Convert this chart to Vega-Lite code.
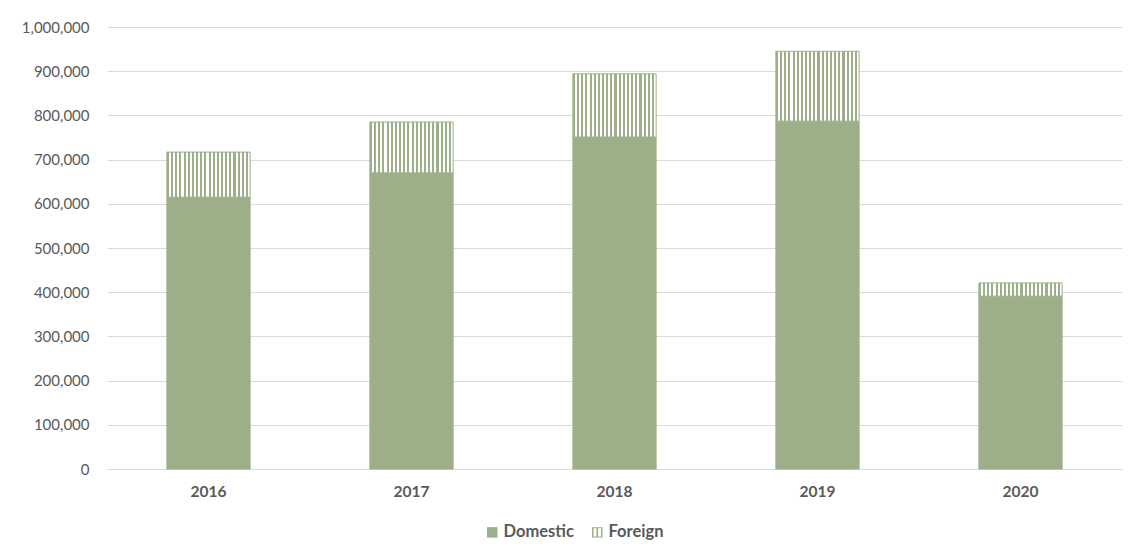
{
  "$schema": "https://vega.github.io/schema/vega-lite/v6.json",
  "autosize": "none",
  "width": 1015,
  "height": 442,
  "padding": {"left": 107, "top": 27, "right": 12, "bottom": 84},
  "background": "white",
  "data": {
    "values": [
      {"year": "2016", "type": "Domestic", "value": 615000},
      {"year": "2016", "type": "Foreign", "value": 102000},
      {"year": "2017", "type": "Domestic", "value": 670000},
      {"year": "2017", "type": "Foreign", "value": 115000},
      {"year": "2018", "type": "Domestic", "value": 751000},
      {"year": "2018", "type": "Foreign", "value": 143000},
      {"year": "2019", "type": "Domestic", "value": 787000},
      {"year": "2019", "type": "Foreign", "value": 158000},
      {"year": "2020", "type": "Domestic", "value": 391000},
      {"year": "2020", "type": "Foreign", "value": 30000}
    ]
  },
  "encoding": {
    "x": {
      "field": "year",
      "type": "nominal",
      "scale": {"paddingInner": 0.59, "paddingOuter": 0.295},
      "axis": {
        "title": null,
        "labelAngle": 0,
        "ticks": false,
        "domainColor": "#D9D9D9",
        "labelFont": "Lato",
        "labelFontSize": 15.5,
        "labelFontWeight": "bold",
        "labelColor": "#595959",
        "labelPadding": 15
      }
    }
  },
  "layer": [
    {
      "mark": {"type": "bar", "stroke": "#9CAF88", "strokeWidth": 1},
      "encoding": {
        "y": {
          "field": "value",
          "type": "quantitative",
          "stack": "zero",
          "scale": {"domain": [0, 1000000], "nice": false},
          "axis": {
            "title": null,
            "values": [0, 100000, 200000, 300000, 400000, 500000, 600000, 700000, 800000, 900000, 1000000],
            "format": ",d",
            "domain": false,
            "ticks": false,
            "gridColor": "#D9D9D9",
            "labelFont": "Lato",
            "labelFontSize": 15,
            "labelColor": "#595959",
            "labelPadding": 18
          }
        },
        "detail": {"field": "type", "type": "nominal"},
        "order": {"field": "type", "sort": "ascending"},
        "fill": {
          "condition": {
            "test": "datum.type === 'Foreign'",
            "value": {
              "gradient": "linear",
              "x1": 0, "y1": 0, "x2": 1, "y2": 0,
              "stops": [
                {"offset": 0, "color": "#9CAF88"}, {"offset": 0.025, "color": "#9CAF88"}, {"offset": 0.025, "color": "#FFFFFF"}, {"offset": 0.05, "color": "#FFFFFF"},
                {"offset": 0.05, "color": "#9CAF88"}, {"offset": 0.075, "color": "#9CAF88"}, {"offset": 0.075, "color": "#FFFFFF"}, {"offset": 0.1, "color": "#FFFFFF"},
                {"offset": 0.1, "color": "#9CAF88"}, {"offset": 0.125, "color": "#9CAF88"}, {"offset": 0.125, "color": "#FFFFFF"}, {"offset": 0.15, "color": "#FFFFFF"},
                {"offset": 0.15, "color": "#9CAF88"}, {"offset": 0.175, "color": "#9CAF88"}, {"offset": 0.175, "color": "#FFFFFF"}, {"offset": 0.2, "color": "#FFFFFF"},
                {"offset": 0.2, "color": "#9CAF88"}, {"offset": 0.225, "color": "#9CAF88"}, {"offset": 0.225, "color": "#FFFFFF"}, {"offset": 0.25, "color": "#FFFFFF"},
                {"offset": 0.25, "color": "#9CAF88"}, {"offset": 0.275, "color": "#9CAF88"}, {"offset": 0.275, "color": "#FFFFFF"}, {"offset": 0.3, "color": "#FFFFFF"},
                {"offset": 0.3, "color": "#9CAF88"}, {"offset": 0.325, "color": "#9CAF88"}, {"offset": 0.325, "color": "#FFFFFF"}, {"offset": 0.35, "color": "#FFFFFF"},
                {"offset": 0.35, "color": "#9CAF88"}, {"offset": 0.375, "color": "#9CAF88"}, {"offset": 0.375, "color": "#FFFFFF"}, {"offset": 0.4, "color": "#FFFFFF"},
                {"offset": 0.4, "color": "#9CAF88"}, {"offset": 0.425, "color": "#9CAF88"}, {"offset": 0.425, "color": "#FFFFFF"}, {"offset": 0.45, "color": "#FFFFFF"},
                {"offset": 0.45, "color": "#9CAF88"}, {"offset": 0.475, "color": "#9CAF88"}, {"offset": 0.475, "color": "#FFFFFF"}, {"offset": 0.5, "color": "#FFFFFF"},
                {"offset": 0.5, "color": "#9CAF88"}, {"offset": 0.525, "color": "#9CAF88"}, {"offset": 0.525, "color": "#FFFFFF"}, {"offset": 0.55, "color": "#FFFFFF"},
                {"offset": 0.55, "color": "#9CAF88"}, {"offset": 0.575, "color": "#9CAF88"}, {"offset": 0.575, "color": "#FFFFFF"}, {"offset": 0.6, "color": "#FFFFFF"},
                {"offset": 0.6, "color": "#9CAF88"}, {"offset": 0.625, "color": "#9CAF88"}, {"offset": 0.625, "color": "#FFFFFF"}, {"offset": 0.65, "color": "#FFFFFF"},
                {"offset": 0.65, "color": "#9CAF88"}, {"offset": 0.675, "color": "#9CAF88"}, {"offset": 0.675, "color": "#FFFFFF"}, {"offset": 0.7, "color": "#FFFFFF"},
                {"offset": 0.7, "color": "#9CAF88"}, {"offset": 0.725, "color": "#9CAF88"}, {"offset": 0.725, "color": "#FFFFFF"}, {"offset": 0.75, "color": "#FFFFFF"},
                {"offset": 0.75, "color": "#9CAF88"}, {"offset": 0.775, "color": "#9CAF88"}, {"offset": 0.775, "color": "#FFFFFF"}, {"offset": 0.8, "color": "#FFFFFF"},
                {"offset": 0.8, "color": "#9CAF88"}, {"offset": 0.825, "color": "#9CAF88"}, {"offset": 0.825, "color": "#FFFFFF"}, {"offset": 0.85, "color": "#FFFFFF"},
                {"offset": 0.85, "color": "#9CAF88"}, {"offset": 0.875, "color": "#9CAF88"}, {"offset": 0.875, "color": "#FFFFFF"}, {"offset": 0.9, "color": "#FFFFFF"},
                {"offset": 0.9, "color": "#9CAF88"}, {"offset": 0.925, "color": "#9CAF88"}, {"offset": 0.925, "color": "#FFFFFF"}, {"offset": 0.95, "color": "#FFFFFF"},
                {"offset": 0.95, "color": "#9CAF88"}, {"offset": 0.975, "color": "#9CAF88"}, {"offset": 0.975, "color": "#FFFFFF"}, {"offset": 1, "color": "#FFFFFF"}
              ]
            }
          },
          "value": "#9CAF88"
        }
      }
    },
    {
      "mark": {"type": "point", "filled": true, "color": "#9CAF88", "opacity": 0},
      "encoding": {
        "y": {"field": "value", "type": "quantitative"},
        "shape": {
          "field": "type",
          "type": "nominal",
          "scale": {
            "domain": ["Domestic", "Foreign"],
            "range": ["square", "M-1,-1H1V1H-1Z M-0.72,-0.78V0.78H-0.16V-0.78Z M0.16,-0.78V0.78H0.72V-0.78Z"]
          },
          "legend": {
            "title": null,
            "orient": "none",
            "legendX": 377,
            "legendY": 497,
            "direction": "horizontal",
            "symbolSize": 110,
            "symbolOpacity": 1,
            "symbolFillColor": "#9CAF88",
            "symbolStrokeWidth": 0,
            "labelFont": "Lato",
            "labelFontSize": 16.5,
            "labelFontWeight": "bold",
            "labelColor": "#595959",
            "columnPadding": 15,
            "labelOffset": 3
          }
        }
      }
    }
  ],
  "config": {"view": {"stroke": null}}
}
